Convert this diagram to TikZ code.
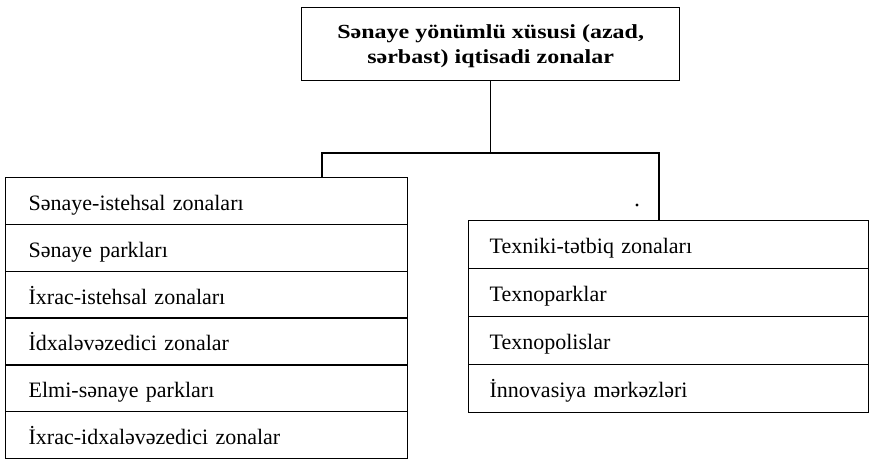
\documentclass[tikz,border=0pt]{standalone}
\usepackage{fontspec}
\setmainfont{Liberation Serif}
\newfontfamily\widefont[FakeStretch=1.2]{Liberation Serif}
\begin{document}
\begin{tikzpicture}[x=1pt,y=-1pt,
  box/.style={draw=black,line width=1.3pt,rectangle},
  lrow/.style={box,anchor=north west,minimum width=402pt,minimum height=46.8pt,
     inner xsep=23pt,text width=356pt,align=left,text height=19pt,text depth=0pt,
     font=\fontsize{22}{24}\selectfont},
  rrow/.style={box,anchor=north west,minimum width=400pt,minimum height=48pt,
     inner xsep=21pt,text width=358pt,align=left,text height=17.5pt,text depth=0pt,
     font=\fontsize{22}{24}\selectfont},
  conn/.style={line width=1.3pt}]
\useasboundingbox (0,0) rectangle (869,460);
\node[box,anchor=north west,minimum width=378pt,minimum height=73pt,align=center,
  text depth=0pt,font=\widefont\bfseries\fontsize{20}{25}\selectfont] (top) at (301,7)
  {Sənaye yönümlü xüsusi (azad,\\ sərbast) iqtisadi zonalar};
\node[lrow] (L1) at (5,177) {Sənaye-istehsal zonaları};
\node[lrow] (L2) at (5,223.8) {Sənaye parkları};
\node[lrow] (L3) at (5,270.6) {İxrac-istehsal zonaları};
\node[lrow] (L4) at (5,317.4) {İdxaləvəzedici zonalar};
\node[lrow] (L5) at (5,364.2) {Elmi-sənaye parkları};
\node[lrow] (L6) at (5,411) {İxrac-idxaləvəzedici zonalar};
\node[rrow] (R1) at (468,220) {Texniki-tətbiq zonaları};
\node[rrow] (R2) at (468,268) {Texnoparklar};
\node[rrow] (R3) at (468,316) {Texnopolislar};
\node[rrow] (R4) at (468,364) {İnnovasiya mərkəzləri};
\coordinate (bus) at (0,153);
\coordinate (lx) at (322,0);
\coordinate (rx) at (659,0);
\draw[conn] (top.south) -- (top.south |- bus);
\draw[conn] (L1.north -| lx) |- (bus -| rx) -- (R1.north -| rx);
\fill (637,205) circle (1.6pt);
\end{tikzpicture}
\end{document}
